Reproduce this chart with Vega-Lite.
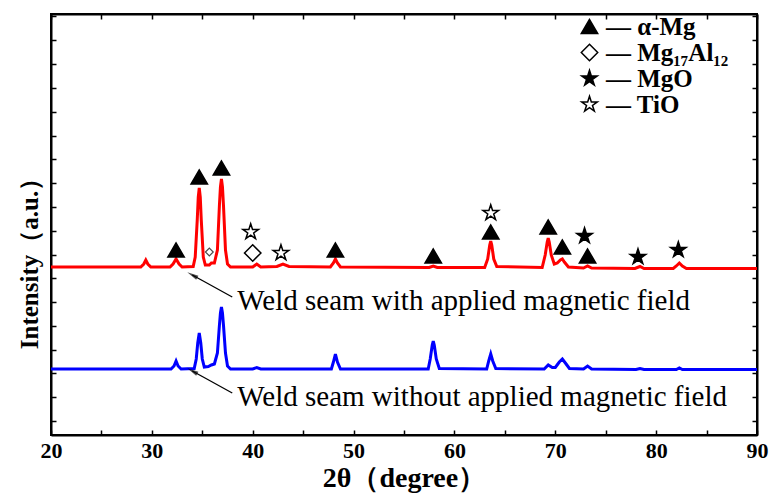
{
  "$schema": "https://vega.github.io/schema/vega-lite/v6.json",
  "width": 706,
  "height": 421,
  "autosize": "none",
  "padding": {"left": 51, "top": 14, "right": 12, "bottom": 59},
  "background": "white",
  "config": {
    "view": {"stroke": "black", "strokeWidth": 2},
    "font": "Liberation Serif",
    "axis": {"domainColor": "black", "domainWidth": 2, "tickColor": "black", "tickWidth": 1.5, "grid": false, "labelColor": "black", "titleColor": "black"}
  },
  "datasets": {
    "curves": [
      {"series": "with", "x": 20, "y": 168}, {"series": "with", "x": 25, "y": 168}, {"series": "with", "x": 28.9, "y": 168},
      {"series": "with", "x": 29.2, "y": 171}, {"series": "with", "x": 29.4, "y": 175}, {"series": "with", "x": 29.6, "y": 171},
      {"series": "with", "x": 29.9, "y": 168}, {"series": "with", "x": 31.8, "y": 168}, {"series": "with", "x": 32.1, "y": 171},
      {"series": "with", "x": 32.4, "y": 176}, {"series": "with", "x": 32.7, "y": 171}, {"series": "with", "x": 33.0, "y": 168},
      {"series": "with", "x": 34.1, "y": 168.5}, {"series": "with", "x": 34.3, "y": 178}, {"series": "with", "x": 34.5, "y": 215},
      {"series": "with", "x": 34.6, "y": 238}, {"series": "with", "x": 34.7, "y": 247}, {"series": "with", "x": 34.8, "y": 238},
      {"series": "with", "x": 34.9, "y": 215}, {"series": "with", "x": 35.1, "y": 178}, {"series": "with", "x": 35.3, "y": 170},
      {"series": "with", "x": 35.7, "y": 170}, {"series": "with", "x": 35.9, "y": 172}, {"series": "with", "x": 36.2, "y": 172},
      {"series": "with", "x": 36.5, "y": 185}, {"series": "with", "x": 36.7, "y": 230}, {"series": "with", "x": 36.8, "y": 248},
      {"series": "with", "x": 36.9, "y": 256}, {"series": "with", "x": 37.0, "y": 248}, {"series": "with", "x": 37.1, "y": 230},
      {"series": "with", "x": 37.3, "y": 185}, {"series": "with", "x": 37.5, "y": 171}, {"series": "with", "x": 37.8, "y": 168},
      {"series": "with", "x": 40.0, "y": 168}, {"series": "with", "x": 40.4, "y": 171}, {"series": "with", "x": 40.8, "y": 168},
      {"series": "with", "x": 42.4, "y": 168.5}, {"series": "with", "x": 43.0, "y": 171}, {"series": "with", "x": 43.6, "y": 168.5},
      {"series": "with", "x": 47.7, "y": 168}, {"series": "with", "x": 48.0, "y": 172}, {"series": "with", "x": 48.2, "y": 176},
      {"series": "with", "x": 48.4, "y": 172}, {"series": "with", "x": 48.7, "y": 168}, {"series": "with", "x": 57.5, "y": 167.5},
      {"series": "with", "x": 57.9, "y": 169}, {"series": "with", "x": 58.3, "y": 167.5}, {"series": "with", "x": 63.0, "y": 167.5},
      {"series": "with", "x": 63.3, "y": 176}, {"series": "with", "x": 63.5, "y": 190}, {"series": "with", "x": 63.6, "y": 194},
      {"series": "with", "x": 63.7, "y": 190}, {"series": "with", "x": 63.9, "y": 176}, {"series": "with", "x": 64.2, "y": 168.5},
      {"series": "with", "x": 68.7, "y": 167.5}, {"series": "with", "x": 69.0, "y": 180}, {"series": "with", "x": 69.2, "y": 193},
      {"series": "with", "x": 69.3, "y": 197}, {"series": "with", "x": 69.4, "y": 193}, {"series": "with", "x": 69.6, "y": 180},
      {"series": "with", "x": 69.9, "y": 171}, {"series": "with", "x": 70.2, "y": 172}, {"series": "with", "x": 70.5, "y": 175},
      {"series": "with", "x": 70.7, "y": 176}, {"series": "with", "x": 70.9, "y": 173}, {"series": "with", "x": 71.3, "y": 168},
      {"series": "with", "x": 72.8, "y": 167}, {"series": "with", "x": 73.2, "y": 169}, {"series": "with", "x": 73.6, "y": 167},
      {"series": "with", "x": 77.9, "y": 166.5}, {"series": "with", "x": 78.4, "y": 168.5}, {"series": "with", "x": 78.8, "y": 166.5},
      {"series": "with", "x": 81.7, "y": 166.5}, {"series": "with", "x": 82.0, "y": 169}, {"series": "with", "x": 82.3, "y": 172},
      {"series": "with", "x": 82.6, "y": 169}, {"series": "with", "x": 83.0, "y": 166.5}, {"series": "with", "x": 90, "y": 166.5},
      {"series": "without", "x": 20, "y": 66}, {"series": "without", "x": 31.9, "y": 66}, {"series": "without", "x": 32.2, "y": 69},
      {"series": "without", "x": 32.4, "y": 74}, {"series": "without", "x": 32.6, "y": 69}, {"series": "without", "x": 32.9, "y": 66},
      {"series": "without", "x": 34.2, "y": 66.5}, {"series": "without", "x": 34.4, "y": 76}, {"series": "without", "x": 34.55, "y": 92},
      {"series": "without", "x": 34.7, "y": 102}, {"series": "without", "x": 34.85, "y": 92}, {"series": "without", "x": 35.0, "y": 76},
      {"series": "without", "x": 35.2, "y": 68}, {"series": "without", "x": 35.6, "y": 68.5}, {"series": "without", "x": 35.9, "y": 70},
      {"series": "without", "x": 36.2, "y": 71}, {"series": "without", "x": 36.5, "y": 82}, {"series": "without", "x": 36.7, "y": 110},
      {"series": "without", "x": 36.8, "y": 122}, {"series": "without", "x": 36.9, "y": 128}, {"series": "without", "x": 37.0, "y": 122},
      {"series": "without", "x": 37.1, "y": 110}, {"series": "without", "x": 37.3, "y": 82}, {"series": "without", "x": 37.5, "y": 69},
      {"series": "without", "x": 37.8, "y": 66}, {"series": "without", "x": 40.0, "y": 66}, {"series": "without", "x": 40.4, "y": 67.5},
      {"series": "without", "x": 40.8, "y": 66}, {"series": "without", "x": 47.8, "y": 66}, {"series": "without", "x": 48.0, "y": 73},
      {"series": "without", "x": 48.2, "y": 81}, {"series": "without", "x": 48.4, "y": 73}, {"series": "without", "x": 48.7, "y": 66},
      {"series": "without", "x": 57.4, "y": 66}, {"series": "without", "x": 57.6, "y": 76}, {"series": "without", "x": 57.8, "y": 90},
      {"series": "without", "x": 57.9, "y": 94}, {"series": "without", "x": 58.0, "y": 90}, {"series": "without", "x": 58.2, "y": 76},
      {"series": "without", "x": 58.5, "y": 66.5}, {"series": "without", "x": 63.2, "y": 66}, {"series": "without", "x": 63.4, "y": 74},
      {"series": "without", "x": 63.6, "y": 81}, {"series": "without", "x": 63.8, "y": 74}, {"series": "without", "x": 64.1, "y": 66.5},
      {"series": "without", "x": 68.9, "y": 66}, {"series": "without", "x": 69.3, "y": 70}, {"series": "without", "x": 69.7, "y": 67.5},
      {"series": "without", "x": 70.0, "y": 67.5}, {"series": "without", "x": 70.4, "y": 73}, {"series": "without", "x": 70.7, "y": 76},
      {"series": "without", "x": 71.0, "y": 72}, {"series": "without", "x": 71.4, "y": 66.5}, {"series": "without", "x": 72.8, "y": 66},
      {"series": "without", "x": 73.2, "y": 69}, {"series": "without", "x": 73.6, "y": 66}, {"series": "without", "x": 78.0, "y": 65.5},
      {"series": "without", "x": 78.4, "y": 66.5}, {"series": "without", "x": 78.8, "y": 65.5}, {"series": "without", "x": 82.0, "y": 65.5},
      {"series": "without", "x": 82.3, "y": 67}, {"series": "without", "x": 82.6, "y": 65.5}, {"series": "without", "x": 90, "y": 65.5}
    ],
    "markers": [
      {"phase": "α-Mg", "x": 32.4, "y": 185}, {"phase": "α-Mg", "x": 34.7, "y": 258}, {"phase": "α-Mg", "x": 36.9, "y": 267},
      {"phase": "α-Mg", "x": 48.2, "y": 185}, {"phase": "α-Mg", "x": 57.9, "y": 179}, {"phase": "α-Mg", "x": 63.6, "y": 203},
      {"phase": "α-Mg", "x": 69.3, "y": 208}, {"phase": "α-Mg", "x": 70.7, "y": 188}, {"phase": "α-Mg", "x": 73.2, "y": 179},
      {"phase": "Mg₁₇Al₁₂", "x": 40.0, "y": 182},
      {"phase": "MgO", "x": 72.9, "y": 199}, {"phase": "MgO", "x": 78.2, "y": 178}, {"phase": "MgO", "x": 82.2, "y": 185},
      {"phase": "TiO", "x": 39.8, "y": 203}, {"phase": "TiO", "x": 42.8, "y": 182}, {"phase": "TiO", "x": 63.6, "y": 222}
    ],
    "smallMarkers": [
      {"phase": "Mg₁₇Al₁₂", "x": 35.7, "y": 183}
    ],
    "arrows": [
      {"x": 37.97, "y": 138, "x2": 34.01, "y2": 160},
      {"x": 37.97, "y": 42, "x2": 34.01, "y2": 64}
    ],
    "notes": [
      {"label": "Weld seam with applied magnetic field", "x": 38.47, "y": 134},
      {"label": "Weld seam without applied magnetic field", "x": 38.47, "y": 38}
    ],
    "frame": [{"x": 20, "y": 0}]
  },
  "layer": [
    {
      "data": {"name": "curves"},
      "mark": {"type": "line", "strokeWidth": 3},
      "encoding": {
        "x": {"field": "x", "type": "quantitative", "scale": {"domain": [20, 90], "nice": false, "zero": false},
          "axis": {"orient": "bottom", "values": [20, 25, 30, 35, 40, 45, 50, 55, 60, 65, 70, 75, 80, 85, 90],
            "labelExpr": "datum.value % 10 === 0 ? datum.label : ''", "tickSize": -5, "labelPadding": 10,
            "labelFont": "Liberation Serif", "labelFontWeight": "bold", "labelFontSize": 22, "labelFlush": false, "labelOverlap": false,
            "title": "2θ（degree）", "titleFont": "Liberation Serif", "titleFontWeight": "bold", "titleFontSize": 28, "titlePadding": 3}},
        "y": {"field": "y", "type": "quantitative", "scale": {"domain": [0, 421], "nice": false, "zero": false},
          "axis": {"orient": "left", "values": [14, 38, 62, 85, 109, 133, 157, 180, 204, 228, 252, 276, 299, 323, 347, 371, 395, 419],
            "labels": false, "tickSize": -5,
            "title": "Intensity（a.u.）", "titleFont": "Liberation Serif", "titleFontWeight": "bold", "titleFontSize": 25,
            "titleAngle": 270, "titleX": -22, "titleY": 243, "titleAlign": "center", "titleBaseline": "middle"}},
        "color": {"field": "series", "type": "nominal", "scale": {"domain": ["with", "without"], "range": ["#ff0000", "#0000ff"]}, "legend": null}
      }
    },
    {
      "data": {"name": "markers"},
      "mark": {"type": "point", "filled": true, "stroke": "black", "strokeWidth": 1.5, "size": 270, "opacity": 1},
      "encoding": {
        "x": {"field": "x", "type": "quantitative", "scale": {"domain": [20, 90], "nice": false, "zero": false}, "axis": null},
        "y": {"field": "y", "type": "quantitative", "scale": {"domain": [0, 421], "nice": false, "zero": false}, "axis": null},
        "shape": {"field": "phase", "type": "nominal",
          "scale": {"domain": ["α-Mg", "Mg₁₇Al₁₂", "MgO", "TiO"],
            "range": ["triangle-up", "diamond", "M0,-1L0.2245,-0.309L0.951,-0.309L0.363,0.118L0.588,0.809L0,0.382L-0.588,0.809L-0.363,0.118L-0.951,-0.309L-0.2245,-0.309Z", "M0,-1L0.2245,-0.309L0.951,-0.309L0.363,0.118L0.588,0.809L0,0.382L-0.588,0.809L-0.363,0.118L-0.951,-0.309L-0.2245,-0.309Z"]},
          "legend": {"title": null, "orient": "none", "legendX": 526, "legendY": 0, "padding": 0, "rowPadding": -1,
            "labelExpr": "'— ' + datum.label", "labelFont": "Liberation Serif", "labelFontWeight": "bold", "labelFontSize": 25,
            "labelColor": "black", "labelOffset": 4, "symbolSize": 270, "labelLimit": 300,
            "encode": {"symbols": {"update": {"stroke": {"value": "black"}, "strokeWidth": {"value": 1.5}}}}}},
        "fill": {"field": "phase", "type": "nominal",
          "scale": {"domain": ["α-Mg", "Mg₁₇Al₁₂", "MgO", "TiO"], "range": ["black", "white", "black", "white"]},
          "legend": {"title": null, "orient": "none", "legendX": 526, "legendY": 0, "padding": 0, "rowPadding": -1,
            "labelExpr": "'— ' + datum.label", "labelFont": "Liberation Serif", "labelFontWeight": "bold", "labelFontSize": 25,
            "labelColor": "black", "labelOffset": 4, "symbolSize": 270, "labelLimit": 300,
            "encode": {"symbols": {"update": {"stroke": {"value": "black"}, "strokeWidth": {"value": 1.5}}}}}}
      }
    },
    {
      "data": {"name": "smallMarkers"},
      "mark": {"type": "point", "shape": "diamond", "filled": true, "fill": "white", "stroke": "black", "strokeWidth": 1.2, "size": 60},
      "encoding": {
        "x": {"field": "x", "type": "quantitative", "scale": {"domain": [20, 90], "nice": false, "zero": false}, "axis": null},
        "y": {"field": "y", "type": "quantitative", "scale": {"domain": [0, 421], "nice": false, "zero": false}, "axis": null}
      }
    },
    {
      "data": {"name": "arrows"},
      "mark": {"type": "rule", "color": "black", "strokeWidth": 1.3},
      "encoding": {
        "x": {"field": "x", "type": "quantitative", "scale": {"domain": [20, 90], "nice": false, "zero": false}, "axis": null},
        "y": {"field": "y", "type": "quantitative", "scale": {"domain": [0, 421], "nice": false, "zero": false}, "axis": null},
        "x2": {"field": "x2"},
        "y2": {"field": "y2"}
      }
    },
    {
      "data": {"name": "arrows"},
      "mark": {"type": "point", "shape": "M0,-1L0.4,1L-0.4,1Z", "filled": true, "fill": "black", "stroke": null, "size": 130, "angle": 299},
      "encoding": {
        "x": {"field": "x2", "type": "quantitative", "scale": {"domain": [20, 90], "nice": false, "zero": false}, "axis": null},
        "y": {"field": "y2", "type": "quantitative", "scale": {"domain": [0, 421], "nice": false, "zero": false}, "axis": null}
      }
    },
    {
      "data": {"name": "notes"},
      "mark": {"type": "text", "align": "left", "baseline": "middle", "font": "Liberation Serif", "fontSize": 29, "color": "black"},
      "encoding": {
        "x": {"field": "x", "type": "quantitative", "scale": {"domain": [20, 90], "nice": false, "zero": false}, "axis": null},
        "y": {"field": "y", "type": "quantitative", "scale": {"domain": [0, 421], "nice": false, "zero": false}, "axis": null},
        "text": {"field": "label"}
      }
    },
    {
      "data": {"name": "frame"},
      "mark": {"type": "point", "opacity": 0},
      "encoding": {
        "x": {"field": "x", "type": "quantitative", "scale": {"domain": [20, 90], "nice": false, "zero": false},
          "axis": {"orient": "top", "values": [20, 25, 30, 35, 40, 45, 50, 55, 60, 65, 70, 75, 80, 85, 90], "labels": false, "tickSize": -5, "title": null}},
        "y": {"field": "y", "type": "quantitative", "scale": {"domain": [0, 421], "nice": false, "zero": false},
          "axis": {"orient": "right", "values": [14, 38, 62, 85, 109, 133, 157, 180, 204, 228, 252, 276, 299, 323, 347, 371, 395, 419], "labels": false, "tickSize": -5, "title": null}}
      }
    }
  ],
  "resolve": {"axis": {"x": "independent", "y": "independent"}}
}
